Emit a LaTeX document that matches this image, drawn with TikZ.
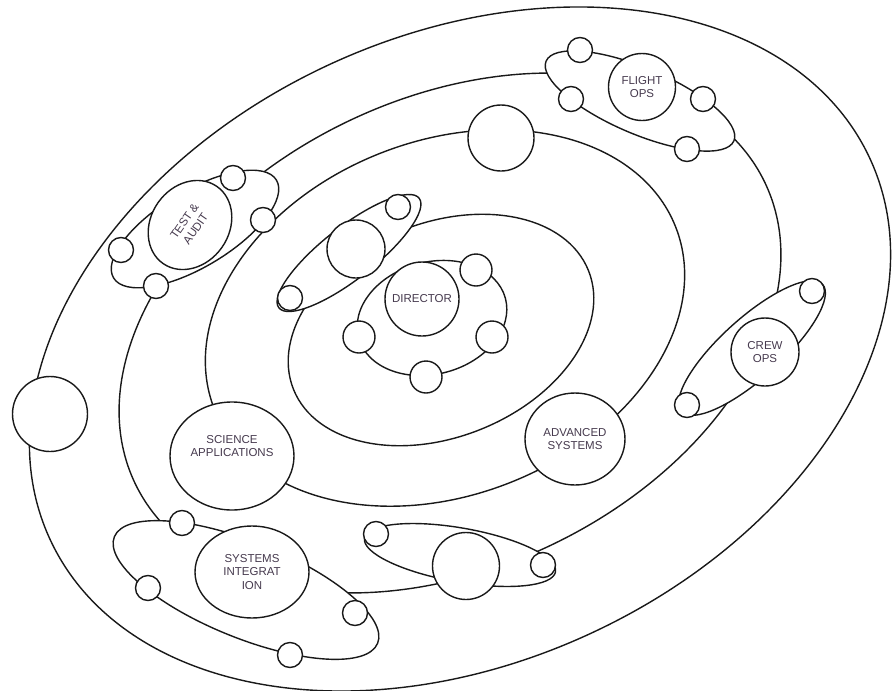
\documentclass[tikz,border=0pt]{standalone}
\usepackage{fontspec}
\setmainfont{Liberation Sans}
\usepackage{tikz}
\usetikzlibrary{shapes.geometric}
\definecolor{myink}{RGB}{25,25,25}
\definecolor{mytext}{RGB}{70,58,78}
\tikzset{
  orbit/.style={draw=myink, line width=1.4pt},
  satorbit/.style={draw=myink, fill=white, line width=1.4pt},
  planet/.style={circle, draw=myink, fill=white, line width=1.4pt,
    inner sep=0pt, align=center, text=mytext,
    font=\fontsize{11.5}{13.5}\selectfont},
  oval/.style={ellipse, draw=myink, fill=white, line width=1.4pt,
    inner sep=0pt, align=center, text=mytext,
    font=\fontsize{11.5}{13.5}\selectfont},
  moon/.style={circle, draw=myink, fill=white, line width=1.4pt,
    inner sep=0pt, minimum size=25pt},
  dmoon/.style={moon, minimum size=32pt}
}
\begin{document}
\begin{tikzpicture}[x=1pt, y=-1pt]
  \useasboundingbox (0,0) rectangle (895,691);
  \clip (0,0) rectangle (895,691);

  % Main orbits
  \draw[orbit, rotate around={25:(460,349)}] (460,349) ellipse [x radius=452, y radius=313];
  \draw[orbit, rotate around={25.5:(450,333)}] (450,333) ellipse [x radius=349, y radius=235];
  \draw[orbit, rotate around={21.6:(445,318)}] (445,318) ellipse [x radius=248, y radius=177];
  \draw[orbit, rotate around={22:(441,330)}] (441,330) ellipse [x radius=159, y radius=107];
  \draw[orbit, rotate around={15:(432,318)}] (432,318) ellipse [x radius=76, y radius=56];

  % Satellite orbits
  \draw[satorbit, rotate around={31:(195,229)}] (195,229) ellipse [x radius=95, y radius=38];
  \draw[satorbit, rotate around={-23:(640,101)}] (640,101) ellipse [x radius=102, y radius=33];
  \draw[satorbit, rotate around={42:(752,348)}] (752,348) ellipse [x radius=95, y radius=30];
  \draw[satorbit, rotate around={-10:(460,555)}] (460,555) ellipse [x radius=97, y radius=27];
  \draw[satorbit, rotate around={-22:(246,590)}] (246,590) ellipse [x radius=142, y radius=48];
  \draw[satorbit, rotate around={38:(349,253)}] (349,253) ellipse [x radius=89, y radius=26];

  % Director and its moons
  \node[planet, minimum size=74pt] (dir) at (422,299) {DIRECTOR};
  \node[dmoon] (dirA) at (476,270) {};
  \node[dmoon] (dirB) at (492,337) {};
  \node[dmoon] (dirC) at (426,377) {};
  \node[dmoon] (dirD) at (359,337) {};

  % Second orbit
  \node[planet, minimum size=58pt] (inner) at (356,249) {};
  \node[moon] (innerA) at (398,207) {};
  \node[moon] (innerB) at (290,298) {};

  % Third orbit
  \node[planet, minimum size=66pt] (top) at (501,138) {};
  \node[oval, minimum width=124pt, minimum height=108pt] (sci) at (232,456) {};
  \node[align=center, text=mytext, font=\fontsize{11.5}{13.5}\selectfont] (sciT) at (232,446) {SCIENCE\\APPLICATIONS};
  \node[oval, minimum width=100pt, minimum height=92pt] (adv) at (575,439) {ADVANCED\\SYSTEMS};

  % Fourth orbit
  \node[oval, rotate=55, minimum width=94pt, minimum height=78pt] (test) at (190,225) {TEST \&\\AUDIT};
  \node[moon] (testA) at (233,178) {};
  \node[moon] (testB) at (263,220) {};
  \node[moon] (testC) at (121,250) {};
  \node[moon] (testD) at (156,286) {};

  \node[planet, minimum size=67pt] (flight) at (642,87) {FLIGHT\\OPS};
  \node[moon] (flightA) at (580,50) {};
  \node[moon] (flightB) at (571,99) {};
  \node[moon] (flightC) at (703,99) {};
  \node[moon] (flightD) at (687,149) {};

  \node[planet, minimum size=68pt] (crew) at (765,352) {CREW\\OPS};
  \node[moon] (crewA) at (812,291) {};
  \node[moon] (crewB) at (687,405) {};

  \node[planet, minimum size=67pt] (low) at (466,566) {};
  \node[moon] (lowA) at (376,534) {};
  \node[moon] (lowB) at (543,565) {};

  \node[oval, minimum width=114pt, minimum height=92pt] (sys) at (252,572) {SYSTEMS\\INTEGRAT\\ION};
  \node[moon] (sysA) at (182,523) {};
  \node[moon] (sysB) at (148,588) {};
  \node[moon] (sysC) at (355,613) {};
  \node[moon] (sysD) at (290,655) {};

  % Outer orbit
  \node[planet, minimum size=75pt] (far) at (50,414) {};
\end{tikzpicture}
\end{document}
